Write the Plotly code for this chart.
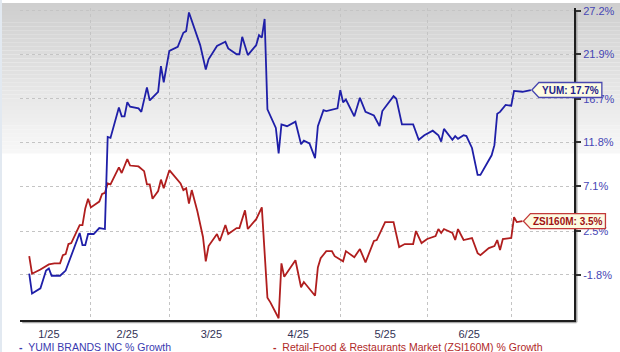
import math
from datetime import datetime
import plotly.graph_objects as go

# ---------------- data ----------------
yum_dates = [
    "2025-01-10", "2025-01-11", "2025-01-14", "2025-01-16", "2025-01-17", "2025-01-18",
    "2025-01-21", "2025-01-23", "2025-01-28", "2025-01-29", "2025-01-30", "2025-01-31",
    "2025-02-02", "2025-02-04", "2025-02-06", "2025-02-07", "2025-02-08", "2025-02-11",
    "2025-02-12", "2025-02-13", "2025-02-14", "2025-02-15", "2025-02-18", "2025-02-19",
    "2025-02-21", "2025-02-22", "2025-02-25", "2025-02-26", "2025-02-27", "2025-03-01",
    "2025-03-04", "2025-03-06", "2025-03-07", "2025-03-08", "2025-03-12", "2025-03-14",
    "2025-03-15", "2025-03-18", "2025-03-21", "2025-03-22", "2025-03-25", "2025-03-26",
    "2025-03-27", "2025-03-29", "2025-04-01", "2025-04-02", "2025-04-03", "2025-04-04",
    "2025-04-05", "2025-04-08", "2025-04-09", "2025-04-10", "2025-04-12", "2025-04-15",
    "2025-04-17", "2025-04-18", "2025-04-20", "2025-04-22", "2025-04-23", "2025-04-25",
    "2025-04-26", "2025-04-30", "2025-05-01", "2025-05-02", "2025-05-03", "2025-05-06",
    "2025-05-08", "2025-05-10", "2025-05-13", "2025-05-15", "2025-05-16", "2025-05-20",
    "2025-05-21", "2025-05-23", "2025-05-27", "2025-05-29", "2025-05-31", "2025-06-03",
    "2025-06-05", "2025-06-06", "2025-06-07", "2025-06-10", "2025-06-11", "2025-06-12",
    "2025-06-14", "2025-06-15", "2025-06-17", "2025-06-19", "2025-06-20", "2025-06-24",
    "2025-06-25", "2025-06-26", "2025-06-27", "2025-06-29", "2025-07-01", "2025-07-02",
    "2025-07-05", "2025-07-08",
]
yum_growth = [
    -1.7, -3.6, -3.1, -1.4, -1.2, -1.9,
    -1.9, -1.4, 2.3, 1.1, 1.1, 2.2,
    2.2, 2.8, 2.7, 12.4, 12.3, 15.7,
    14.7, 14.7, 16.3, 15.8, 15.6, 15.2,
    18.0, 16.5, 17.5, 20.5, 18.6, 22.3,
    22.8, 24.5, 24.7, 27.0, 23.0, 20.1,
    21.3, 22.9, 23.4, 22.6, 21.9, 21.9,
    24.0, 21.8, 23.0, 24.2, 23.9, 26.2,
    15.5, 13.4, 10.6, 13.8, 13.6, 14.1,
    11.6, 12.0, 11.7, 10.1, 13.6, 15.4,
    15.3, 15.6, 17.7, 16.3, 16.6, 14.7,
    16.8, 15.2, 14.8, 13.6, 15.3, 17.0,
    16.7, 13.8, 13.8, 12.1, 12.6, 13.1,
    12.6, 11.9, 13.3, 12.1, 12.5, 12.2,
    12.6, 12.5, 11.2, 8.3, 8.3, 10.4,
    11.5, 15.0, 15.2, 16.0, 15.9, 17.6,
    17.5, 17.7,
]

zsi_dates = [
    "2025-01-10", "2025-01-11", "2025-01-14", "2025-01-17", "2025-01-19", "2025-01-21",
    "2025-01-22", "2025-01-23", "2025-01-24", "2025-01-25", "2025-01-28", "2025-01-29",
    "2025-01-30", "2025-01-31", "2025-02-01", "2025-02-04", "2025-02-05", "2025-02-06",
    "2025-02-07", "2025-02-08", "2025-02-11", "2025-02-12", "2025-02-14", "2025-02-15",
    "2025-02-18", "2025-02-20", "2025-02-21", "2025-02-22", "2025-02-23", "2025-02-25",
    "2025-02-26", "2025-02-27", "2025-03-01", "2025-03-05", "2025-03-06", "2025-03-07",
    "2025-03-08", "2025-03-09", "2025-03-11", "2025-03-13", "2025-03-14", "2025-03-15",
    "2025-03-18", "2025-03-19", "2025-03-21", "2025-03-22", "2025-03-25", "2025-03-26",
    "2025-03-28", "2025-03-29", "2025-04-01", "2025-04-03", "2025-04-05", "2025-04-06",
    "2025-04-09", "2025-04-10", "2025-04-11", "2025-04-15", "2025-04-17", "2025-04-18",
    "2025-04-22", "2025-04-23", "2025-04-24", "2025-04-26", "2025-04-28", "2025-04-29",
    "2025-05-02", "2025-05-03", "2025-05-06", "2025-05-08", "2025-05-10", "2025-05-13",
    "2025-05-14", "2025-05-17", "2025-05-20", "2025-05-22", "2025-05-24", "2025-05-27",
    "2025-05-28", "2025-05-30", "2025-06-01", "2025-06-04", "2025-06-05", "2025-06-06",
    "2025-06-07", "2025-06-10", "2025-06-11", "2025-06-12", "2025-06-14", "2025-06-17",
    "2025-06-19", "2025-06-20", "2025-06-23", "2025-06-25", "2025-06-26", "2025-06-27",
    "2025-06-28", "2025-07-01", "2025-07-02", "2025-07-03", "2025-07-05",
]
zsi_growth = [
    0.0, -1.7, -1.3, -0.8, -0.7, -0.7,
    0.1, 0.2, 1.2, 1.3, 3.1, 3.1,
    4.8, 5.8, 4.9, 5.5, 6.3, 6.4,
    7.4, 7.3, 9.1, 8.5, 10.0, 9.3,
    9.2, 8.7, 7.3, 7.3, 5.8, 6.6,
    7.8, 6.9, 8.8, 7.4, 6.7, 6.9,
    5.3, 6.7, 4.5, 1.9, -0.5, 1.0,
    2.2, 1.5, 3.1, 2.2, 2.8, 2.8,
    4.6, 2.7, 3.7, 4.9, -4.0, -4.4,
    -5.9, -0.7, -2.0, -0.4, -3.0, -2.5,
    -3.8, -1.1, -0.2, 0.5, 0.5, 0.0,
    -0.5, 0.5, -0.1, 0.7, -0.6, 1.5,
    1.6, 3.4, 3.4, 0.9, 1.2, 1.2,
    2.5, 1.3, 1.7, 2.0, 2.7, 2.3,
    2.7, 2.3, 1.6, 2.7, 1.6, 1.8,
    0.3, 0.1, 0.8, 1.0, 1.6, 0.6,
    1.7, 1.8, 3.9, 3.4, 3.5,
]

y_ticks = [27.2, 21.9, 16.7, 11.8, 7.1, 2.5, -1.8]
x_tick_dates = ["2025-01-17", "2025-02-14", "2025-03-16", "2025-04-16", "2025-05-17", "2025-06-16"]
x_tick_labels = ["1/25", "2/25", "3/25", "4/25", "5/25", "6/25"]

yum_name = "YUMI BRANDS INC % Growth"
zsi_name = "Retail-Food & Restaurants Market (ZSI160M) % Growth"
yum_tag = "YUM"
zsi_tag = "ZSI160M"

BLUE = "#1f1fa8"
RED = "#b01e1e"
FONT = "Liberation Sans, Arial, sans-serif"

X_RANGE = ["2025-01-06 17:00", "2025-07-23 09:30"]
Y_RANGE = [-0.02717, 0.10571]  # log10 of growth ratio


def ratio(vals):
    return [1 + v / 100.0 for v in vals]


def _dt(s):
    return datetime.fromisoformat(s)


def paper_x(date_str):
    t0, t1 = _dt(X_RANGE[0]), _dt(X_RANGE[1])
    return (_dt(date_str) - t0).total_seconds() / (t1 - t0).total_seconds()


def paper_y(growth):
    return (math.log10(1 + growth / 100.0) - Y_RANGE[0]) / (Y_RANGE[1] - Y_RANGE[0])


fig = go.Figure()
fig.add_trace(go.Scatter(x=zsi_dates, y=ratio(zsi_growth), mode="lines",
                         line=dict(color=RED, width=1.8), name=zsi_name, showlegend=False))
fig.add_trace(go.Scatter(x=yum_dates, y=ratio(yum_growth), mode="lines",
                         line=dict(color=BLUE, width=1.8), name=yum_name, showlegend=False))

# ---------------- background gradient (style) ----------------
shapes = []
H = 315.0
TOP_PAD = 5.0
n_bands = 38
for i in range(n_bands):
    p0 = i * 4.0
    p1 = p0 + 4.0
    c = int(round(207 + (247 - 207) * i / (n_bands - 1)))
    shapes.append(dict(type="rect", xref="paper", yref="paper",
                       x0=-0.04, x1=1.09,
                       y0=(H + TOP_PAD - p1) / H, y1=(H + TOP_PAD - p0) / H,
                       fillcolor=f"rgb({c},{c},{c})", line=dict(width=0), layer="below"))
# left light strip
shapes.append(dict(type="rect", xref="paper", yref="paper", x0=-0.04, x1=-0.0325,
                   y0=-0.2, y1=1.05, fillcolor="#e2e9f1", line=dict(width=0), layer="below"))
# axis shadows
shapes.append(dict(type="line", xref="paper", yref="paper", x0=0.004, x1=1.0045,
                   y0=-0.0075, y1=-0.0075, line=dict(color="#a8a8a8", width=2), layer="below"))
shapes.append(dict(type="line", xref="paper", yref="paper", x0=1.0045, x1=1.0045,
                   y0=-0.0075, y1=0.99, line=dict(color="#a8a8a8", width=2), layer="below"))

# ---------------- end labels ----------------
annotations = []
for dates, vals, tag, col, txtcol, width in [
    (yum_dates, yum_growth, yum_tag, "#4848b0", "#22228a", 71),
    (zsi_dates, zsi_growth, zsi_tag, "#c23a3a", "#a01212", 83),
]:
    px_ = paper_x(dates[-1])
    py_ = paper_y(vals[-1])
    shapes.append(dict(type="path", xref="paper", yref="paper",
                       xsizemode="pixel", ysizemode="pixel",
                       xanchor=px_, yanchor=py_,
                       path=f"M1,0 L8,7.5 L{width},7.5 L{width},-7.5 L8,-7.5 Z",
                       fillcolor="#fdfbe2", line=dict(color=col, width=1.3), layer="above"))
    annotations.append(dict(x=px_, y=py_, xref="paper", yref="paper", showarrow=False,
                            text=f"<b>{tag}: {vals[-1]:.1f}%</b>",
                            xanchor="center", yanchor="middle", xshift=(width + 8) / 2.0,
                            font=dict(family=FONT, size=10, color=txtcol)))

# ---------------- legend (text) ----------------
annotations.append(dict(x=-0.0054, y=-0.087, xref="paper", yref="paper", showarrow=False,
                        xanchor="left", yanchor="middle",
                        text="<b>-</b>  " + yum_name,
                        font=dict(family=FONT, size=10.5, color="#3a3ab0")))
annotations.append(dict(x=0.453, y=-0.087, xref="paper", yref="paper", showarrow=False,
                        xanchor="left", yanchor="middle",
                        text="<b>-</b>  " + zsi_name.replace("&", "&amp;"),
                        font=dict(family=FONT, size=10.5, color="#b02828")))

fig.update_layout(
    width=620, height=352,
    margin=dict(l=20, r=44, t=5, b=32),
    paper_bgcolor="white",
    plot_bgcolor="rgba(0,0,0,0)",
    showlegend=False,
    shapes=shapes,
    annotations=annotations,
    xaxis=dict(
        type="date",
        range=X_RANGE,
        tickvals=x_tick_dates, ticktext=x_tick_labels,
        ticks="", showgrid=False,
        minor=dict(dtick="M1", tick0="2025-01-01", showgrid=True,
                   gridcolor="#c4c4c4", griddash="dot", gridwidth=1, ticks=""),
        showline=True, linecolor="#1e1e1e", linewidth=2,
        tickfont=dict(family=FONT, size=11, color="#333355"),
        ticklabelstandoff=3,
        zeroline=False, fixedrange=True,
    ),
    yaxis=dict(
        type="log", side="right",
        range=Y_RANGE,
        tickvals=ratio(y_ticks),
        ticktext=[f"{v:.1f}%" for v in y_ticks],
        showgrid=True, gridcolor="#c4c4c4", griddash="dot", gridwidth=1,
        showline=True, linecolor="#1e1e1e", linewidth=2,
        ticks="outside", ticklen=5, tickwidth=1.5, tickcolor="#333333",
        tickfont=dict(family=FONT, size=11, color="#4646b4"),
        zeroline=False, fixedrange=True,
    ),
)

fig.write_html("out.html")
